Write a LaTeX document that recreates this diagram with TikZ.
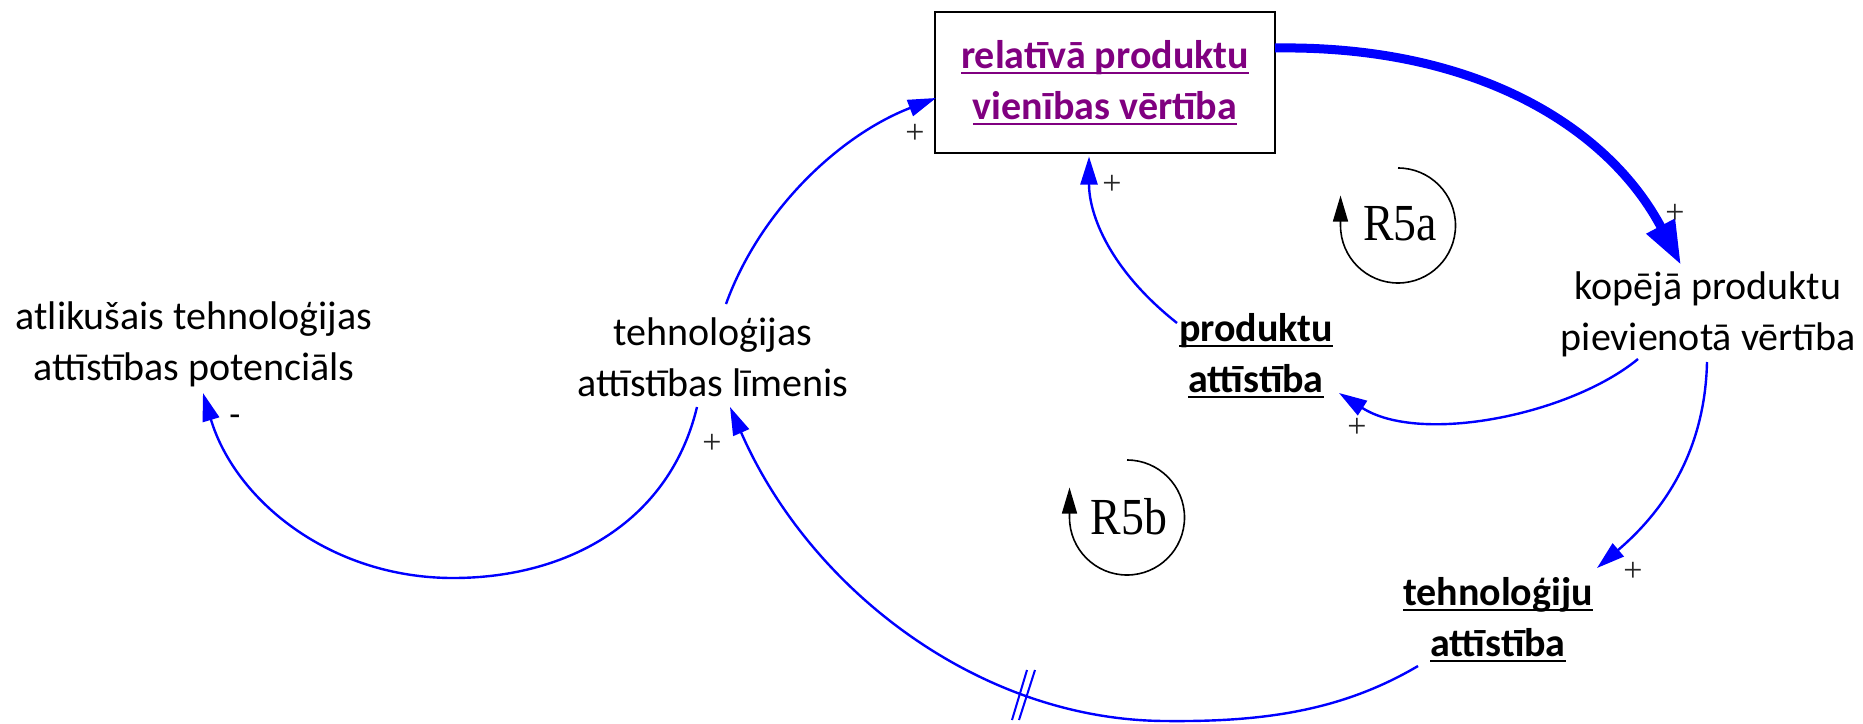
\documentclass[tikz,border=0pt]{standalone}
\usepackage{graphicx}
\usepackage{fontspec}
\setmainfont{Carlito}
\newfontfamily\tms{Liberation Serif}
\usetikzlibrary{arrows.meta,calc}
\definecolor{linkblue}{RGB}{0,0,255}
\definecolor{purp}{RGB}{128,0,128}
\newcommand\myul[1]{\leavevmode\setbox0=\hbox{#1}\rlap{\rule[-0.13em]{\wd0}{0.05em}}\box0}
\begin{document}
\begin{tikzpicture}[x=0.5pt,y=-0.5pt,
  txt/.style={font=\fontsize{20}{25.5}\selectfont, align=center, inner sep=0pt},
  bld/.style={font=\fontsize{20}{25.5}\selectfont\bfseries, align=center, inner sep=0pt},
  boxst/.style={draw, line width=1pt, minimum width=170pt, minimum height=70.5pt, inner sep=0pt,
    font=\fontsize{20}{25.5}\selectfont\bfseries, align=center, text=purp},
  lnk/.style={draw=linkblue, line width=1.2pt, -{Triangle[length=14pt,width=8.5pt]}},
  thk/.style={draw=linkblue, line width=4.5pt, -{Triangle[length=22pt,width=15pt]}},
  delaymark/.style={draw=linkblue, line width=1pt},
  loopst/.style={draw=black, line width=0.8pt, -{Triangle[length=13pt,width=7.5pt]}},
  looptxt/.style={font=\tms\fontsize{26}{26}\selectfont, inner sep=0pt},
  pl/.style={font=\tms\fontsize{17}{17}\selectfont, inner sep=0pt, text=black!85},
  mn/.style={font=\fontsize{18}{18}\selectfont, inner sep=0pt}]
\useasboundingbox (0,0) rectangle (1863,723);

% variables
\node[txt] (at) at (194,344) {atlikušais tehnoloģijas\\attīstības potenciāls};
\node[txt] (tl) at (713,357) {tehnoloģijas\\attīstības līmenis};
\node[boxst] (box) at (1105,82.5) {\myul{relatīvā produktu}\\\myul{vienības vērtība}};
\node[bld] (pa) at (1256,356) {\myul{produktu}\\\myul{attīstība}};
\node[txt] (kp) at (1708,314) {kopējā produktu\\pievienotā vērtība};
\node[bld] (ta) at (1498,620) {\myul{tehnoloģiju}\\\myul{attīstība}};

% loops
\node[looptxt] (r5a) at (1400,224) {\scalebox{0.88}[1]{R5a}};
\node[looptxt] (r5b) at (1129,517) {\scalebox{0.88}[1]{R5b}};
\draw[loopst] ($(r5a)+(-2,-56)$) arc[start angle=90,end angle=-180,radius=28.75pt] -- ++(0,-30);
\draw[loopst] ($(r5b)+(-2,-57)$) arc[start angle=90,end angle=-180,radius=28.75pt] -- ++(0,-30);

% connectors
\draw[thk] ($(box)+(170,-34.5)$) .. controls (1480,45) and (1610,130) .. ($(kp)+(-27,-49)$);
\draw[lnk] ($(tl)+(13,-53)$) .. controls (760,210) and (840,135) .. ($(box)+(-169,15.5)$);
\draw[lnk] ($(pa)+(-79,-33)$) .. controls (1110,270) and (1089,215) .. ($(box)+(-16,74)$);
\draw[lnk] ($(kp)+(-70,45)$) .. controls (1570,415) and (1420,445) .. ($(pa)+(83,37)$);
\draw[lnk] ($(kp)+(-1,48)$) .. controls (1705,450) and (1665,510) .. ($(ta)+(99,-52)$);
\draw[lnk] ($(ta)+(-80,46)$) .. controls (1340,712) and (1260,722) .. (1165,721)
   .. controls (980,720) and (810,590) .. ($(tl)+(17,50)$);
\draw[lnk] ($(tl)+(-16,50)$) .. controls (670,520) and (570,578) .. (453,578)
   .. controls (330,578) and (235,500) .. ($(at)+(9,49)$);

% delay mark
\coordinate (ds) at (1023,695);
\draw[delaymark] ($(ds)+(4,-25)$) -- ($(ds)+(-11,25)$);
\draw[delaymark] ($(ds)+(12,-25)$) -- ($(ds)+(-4,25)$);

% polarities
\node[pl] (p1) at (915,134) {+};
\node[pl] (p2) at (1112,185) {+};
\node[pl] (p3) at (1675,214) {+};
\node[pl] (p4) at (1357,428) {+};
\node[pl] (p5) at (1633,572) {+};
\node[pl] (p6) at (712,444) {+};
\node[mn] (m1) at (235,421) {-};
\end{tikzpicture}
\end{document}
